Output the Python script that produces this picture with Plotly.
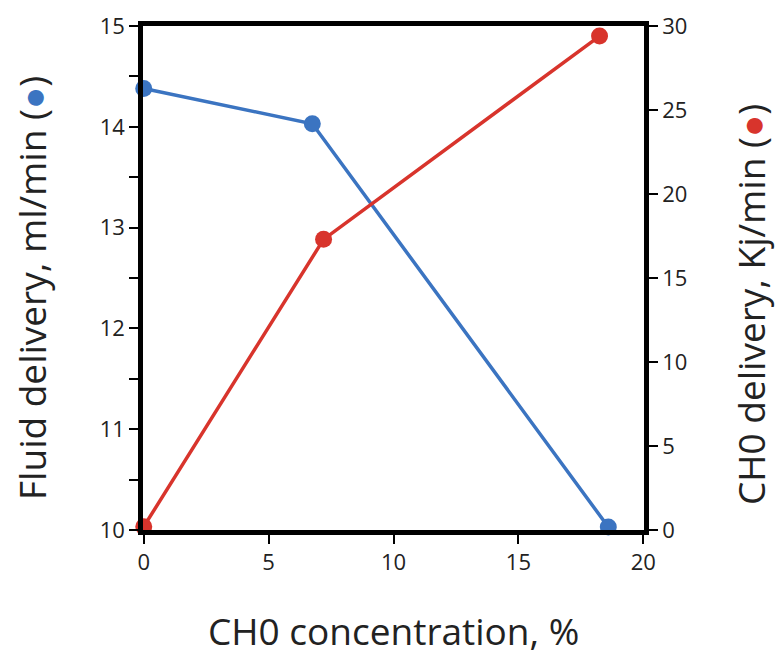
import plotly.graph_objects as go

fluid_x = [0, 6.75, 18.6]
fluid_y = [14.38, 14.03, 10.03]
cho_x = [0, 7.2, 18.25]
cho_y = [0.2, 17.3, 29.4]

x_ticks = [0, 5, 10, 15, 20]
left_ticks = [10, 10.5, 11, 11.5, 12, 12.5, 13, 13.5, 14, 14.5, 15]
left_labels = ["10", "", "11", "", "12", "", "13", "", "14", "", "15"]
right_ticks = [0, 5, 10, 15, 20, 25, 30]

BLUE = "#3b74c1"
RED = "#d8342c"
FONT = "Open Sans"

fig = go.Figure()
fig.add_trace(go.Scatter(x=fluid_x, y=fluid_y, mode="lines+markers",
                         line=dict(color=BLUE, width=3.5),
                         marker=dict(color=BLUE, size=17), yaxis="y", cliponaxis=False))
fig.add_trace(go.Scatter(x=cho_x, y=cho_y, mode="lines+markers",
                         line=dict(color=RED, width=3.5),
                         marker=dict(color=RED, size=17), yaxis="y2", cliponaxis=False))

axis_common = dict(showline=True, linecolor="black", linewidth=4.5, ticks="outside",
                   ticklen=9, tickwidth=2, tickcolor="black", showgrid=False, zeroline=False,
                   automargin=False,
                   tickfont=dict(family=FONT, size=22, color="#222"))
x_title_font = dict(family=FONT, size=37, color="#222")
y_title_font = dict(family=FONT, size=37, color="#222")

fig.update_layout(
    width=775, height=653,
    margin=dict(l=142.5, r=131.25, t=26, b=123),
    plot_bgcolor="white", paper_bgcolor="white",
    showlegend=False,
    xaxis=dict(range=[-0.03, 20.03], tickvals=x_ticks, mirror=True, **axis_common),
    yaxis=dict(range=[10, 15], tickvals=left_ticks, ticktext=left_labels, **axis_common),
    yaxis2=dict(range=[0, 30], tickvals=right_ticks, overlaying="y", side="right",
                **axis_common),
)

fig.add_annotation(text="CH0 concentration, %", xref="paper", yref="paper",
                   x=0.5, y=0, yanchor="middle", xanchor="center", yshift=-100,
                   showarrow=False, font=x_title_font)
fig.add_annotation(text="Fluid delivery, ml/min (<span style='color:%s'>●</span>)" % BLUE,
                   xref="paper", yref="paper", x=0, y=0.5, xanchor="center", yanchor="middle",
                   xshift=-112, yshift=-10, textangle=-90, showarrow=False, font=y_title_font)
fig.add_annotation(text="CH0 delivery, Kj/min (<span style='color:%s'>●</span>)" % RED,
                   xref="paper", yref="paper", x=1, y=0.5, xanchor="center", yanchor="middle",
                   xshift=106, yshift=-27, textangle=-90, showarrow=False, font=y_title_font)

fig.write_html("out.html", config={"displayModeBar": False},
               post_script="document.body.style.margin='0';document.body.style.overflow='hidden';")
